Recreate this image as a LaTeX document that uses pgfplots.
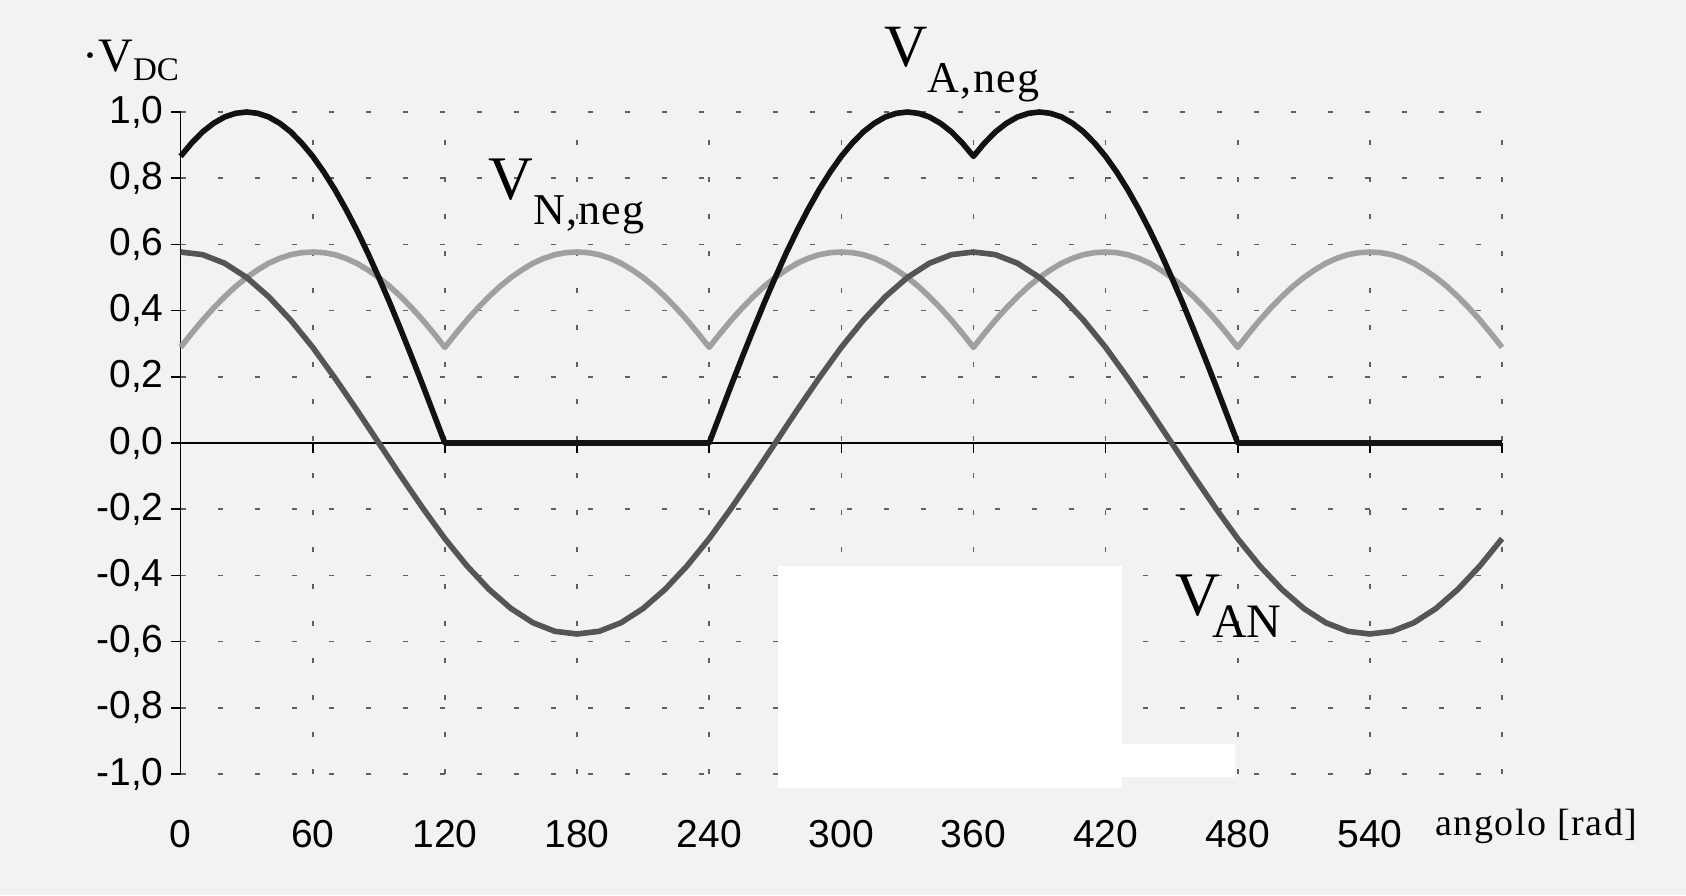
\documentclass[border=0pt]{standalone}
\usepackage{fontspec}
\setmainfont{Liberation Serif}
\setsansfont{Liberation Sans}
\usepackage{pgfplots}
\pgfplotsset{compat=1.18}
\definecolor{bg}{RGB}{242,242,242}
\definecolor{cAN}{RGB}{85,85,85}
\definecolor{cN}{RGB}{160,160,160}
\definecolor{cA}{RGB}{18,18,18}
\definecolor{gridc}{RGB}{95,95,95}
\begin{document}
\begin{tikzpicture}
\path[use as bounding box, fill=bg] (0,0) rectangle (843pt,447.5pt);
\begin{axis}[
  at={(90.3pt,60.5pt)}, anchor=south west,
  scale only axis, width=660.7pt, height=331pt,
  xmin=0, xmax=600, ymin=-1, ymax=1,
  axis y line*=left, axis x line*=middle,
  hide obscured x ticks=false, hide obscured y ticks=false,
  xtick={0,60,120,180,240,300,360,420,480,540,600},
  xticklabels={0,60,120,180,240,300,360,420,480,540,{}},
  ytick={-1,-0.8,-0.6,-0.4,-0.2,0,0.2,0.4,0.6,0.8,1},
  yticklabels={{-1,0},{-0,8},{-0,6},{-0,4},{-0,2},{0,0},{0,2},{0,4},{0,6},{0,8},{1,0}},
  grid=major,
  grid style={gridc, line width=0.8pt, dash pattern=on 2.5pt off 16pt},
  tick align=outside, major tick length=5pt,
  tick style={black, line width=0.8pt},
  axis line style={black, line width=0.8pt},
  ticklabel style={font=\sffamily\fontsize{19.5}{21}\selectfont},
  xticklabel style={anchor=center, yshift=-190.5pt},
  clip=false,
]
\fill[white] (axis cs:271.3,-0.372) rectangle (axis cs:427.4,-1.042);
\fill[white] (axis cs:427,-0.909) rectangle (axis cs:478.8,-1.009);

\addplot[cN, line width=2.8pt, line join=round] coordinates {
(0,0.289)(5,0.331)(10,0.371)(15,0.408)(20,0.442)(25,0.473)(30,0.500)(35,0.523)(40,0.543)(45,0.558)(50,0.569)(55,0.575)(60,0.577)(65,0.575)(70,0.569)(75,0.558)(80,0.543)(85,0.523)(90,0.500)(95,0.473)(100,0.442)(105,0.408)(110,0.371)(115,0.331)
(120,0.289)(125,0.331)(130,0.371)(135,0.408)(140,0.442)(145,0.473)(150,0.500)(155,0.523)(160,0.543)(165,0.558)(170,0.569)(175,0.575)(180,0.577)(185,0.575)(190,0.569)(195,0.558)(200,0.543)(205,0.523)(210,0.500)(215,0.473)(220,0.442)(225,0.408)(230,0.371)(235,0.331)
(240,0.289)(245,0.331)(250,0.371)(255,0.408)(260,0.442)(265,0.473)(270,0.500)(275,0.523)(280,0.543)(285,0.558)(290,0.569)(295,0.575)(300,0.577)(305,0.575)(310,0.569)(315,0.558)(320,0.543)(325,0.523)(330,0.500)(335,0.473)(340,0.442)(345,0.408)(350,0.371)(355,0.331)
(360,0.289)(365,0.331)(370,0.371)(375,0.408)(380,0.442)(385,0.473)(390,0.500)(395,0.523)(400,0.543)(405,0.558)(410,0.569)(415,0.575)(420,0.577)(425,0.575)(430,0.569)(435,0.558)(440,0.543)(445,0.523)(450,0.500)(455,0.473)(460,0.442)(465,0.408)(470,0.371)(475,0.331)
(480,0.289)(485,0.331)(490,0.371)(495,0.408)(500,0.442)(505,0.473)(510,0.500)(515,0.523)(520,0.543)(525,0.558)(530,0.569)(535,0.575)(540,0.577)(545,0.575)(550,0.569)(555,0.558)(560,0.543)(565,0.523)(570,0.500)(575,0.473)(580,0.442)(585,0.408)(590,0.371)(595,0.331)(600,0.289)
};

\addplot[cAN, line width=2.8pt, line join=round] coordinates {
(0,0.577)(10,0.569)(20,0.543)(30,0.500)(40,0.442)(50,0.371)(60,0.289)(70,0.197)(80,0.100)(90,0.000)
(100,-0.100)(110,-0.197)(120,-0.289)(130,-0.371)(140,-0.442)(150,-0.500)(160,-0.543)(170,-0.569)(180,-0.577)
(190,-0.569)(200,-0.543)(210,-0.500)(220,-0.442)(230,-0.371)(240,-0.289)(250,-0.197)(260,-0.100)(270,0.000)
(280,0.100)(290,0.197)(300,0.289)(310,0.371)(320,0.442)(330,0.500)(340,0.543)(350,0.569)(360,0.577)
(370,0.569)(380,0.543)(390,0.500)(400,0.442)(410,0.371)(420,0.289)(430,0.197)(440,0.100)(450,0.000)
(460,-0.100)(470,-0.197)(480,-0.289)(490,-0.371)(500,-0.442)(510,-0.500)(520,-0.543)(530,-0.569)(540,-0.577)
(550,-0.569)(560,-0.543)(570,-0.500)(580,-0.442)(590,-0.371)(600,-0.289)
};

\addplot[cA, line width=2.8pt, line join=round] coordinates {
(0,0.866)(5,0.906)(10,0.940)(15,0.966)(20,0.985)(25,0.996)(30,1.000)(35,0.996)(40,0.985)(45,0.966)(50,0.940)(55,0.906)(60,0.866)
(65,0.819)(70,0.766)(75,0.707)(80,0.643)(85,0.574)(90,0.500)(95,0.423)(100,0.342)(105,0.259)(110,0.174)(115,0.087)(120,0.000)
(240,0.000)(245,0.087)(250,0.174)(255,0.259)(260,0.342)(265,0.423)(270,0.500)(275,0.574)(280,0.643)(285,0.707)(290,0.766)(295,0.819)
(300,0.866)(305,0.906)(310,0.940)(315,0.966)(320,0.985)(325,0.996)(330,1.000)(335,0.996)(340,0.985)(345,0.966)(350,0.940)(355,0.906)(360,0.866)
(365,0.906)(370,0.940)(375,0.966)(380,0.985)(385,0.996)(390,1.000)(395,0.996)(400,0.985)(405,0.966)(410,0.940)(415,0.906)(420,0.866)
(425,0.819)(430,0.766)(435,0.707)(440,0.643)(445,0.574)(450,0.500)(455,0.423)(460,0.342)(465,0.259)(470,0.174)(475,0.087)(480,0.000)
(600,0.000)
};
\end{axis}

\node[anchor=base west, inner sep=0] at (41pt,411.5pt)
  {\fontsize{24}{24}\selectfont ·V\raisebox{-4.5pt}{\fontsize{16.5}{16.5}\selectfont DC}};
\node[anchor=base west, inner sep=0] at (442pt,414pt)
  {\fontsize{30}{30}\selectfont V\raisebox{-13pt}{\fontsize{22}{22}\selectfont\addfontfeatures{LetterSpace=3} A,neg}};
\node[anchor=base west, inner sep=0] at (244pt,347.5pt)
  {\fontsize{31}{31}\selectfont V\raisebox{-12.5pt}{\fontsize{22}{22}\selectfont\addfontfeatures{LetterSpace=3} N,neg}};
\node[anchor=base west, inner sep=0] at (587.5pt,140pt)
  {\fontsize{31}{31}\selectfont V\kern-4pt\raisebox{-11pt}{\fontsize{24}{24}\selectfont AN}};
\node[anchor=base west, inner sep=0] at (717.5pt,30pt)
  {\fontsize{19}{19}\selectfont\addfontfeatures{LetterSpace=4} angolo [rad]};
\end{tikzpicture}
\end{document}
